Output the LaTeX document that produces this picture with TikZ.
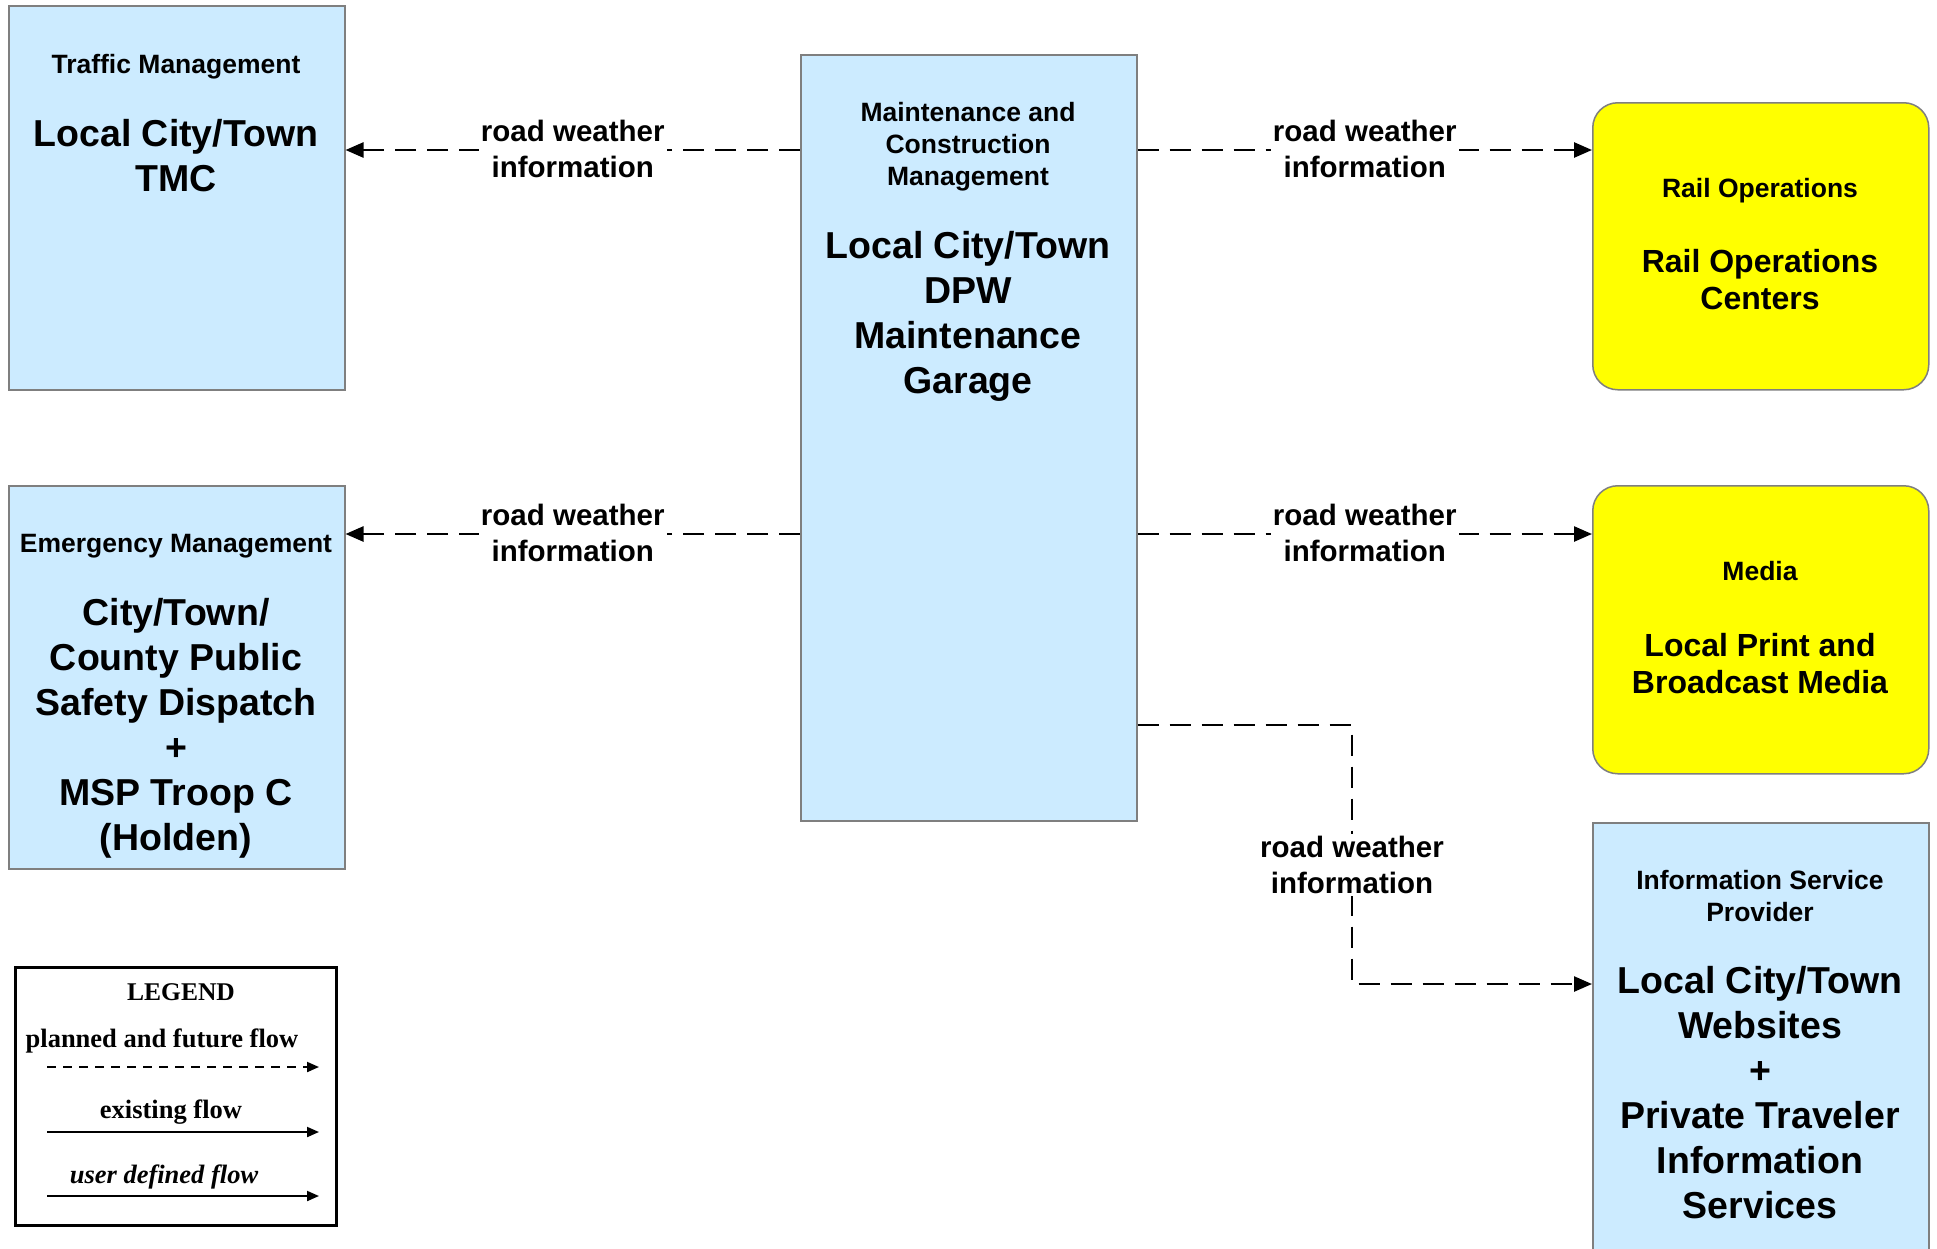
\documentclass[tikz,border=0pt]{standalone}
\usepackage{fontspec}
\setmainfont{Liberation Sans}
\newfontfamily\legendfont{Liberation Serif}
\usetikzlibrary{arrows.meta}
\definecolor{boxblue}{HTML}{CCEBFF}
\definecolor{boxyellow}{HTML}{FFFF00}
\definecolor{boxline}{HTML}{7F7F7F}
\begin{document}
\begin{tikzpicture}[x=1pt,y=-1pt,
  ent/.style={draw=boxline, line width=1.5pt, fill=boxblue, inner sep=0pt, anchor=north west},
  yent/.style={ent, fill=boxyellow, rounded corners=25pt},
  hdr/.style={inner sep=0pt, align=center, font=\fontsize{26.5}{32}\selectfont\bfseries},
  big/.style={inner sep=0pt, align=center, font=\fontsize{37.5}{45}\selectfont\bfseries},
  mid/.style={inner sep=0pt, align=center, font=\fontsize{32}{37}\selectfont\bfseries},
  lbl/.style={fill=white, inner sep=2pt, align=center, font=\fontsize{29.5}{36}\selectfont\bfseries},
  flow/.style={line width=2.5pt, dash pattern=on 21pt off 11pt, -{Triangle[length=18pt,width=15pt]}},
  legtxt/.style={inner sep=0pt, font=\fontsize{26.5}{30}\selectfont\legendfont\bfseries},
  legflow/.style={line width=2pt, -{Triangle[length=12pt,width=10pt]}}
]
\useasboundingbox (0,0) rectangle (1937,1248);
\fill[white] (0,0) rectangle (1937,1248);

% boxes
\node[ent, minimum width=336pt, minimum height=384pt] (tm) at (8,5) {};
\node[ent, minimum width=336pt, minimum height=383pt] (em) at (8,485) {};
\node[ent, minimum width=336pt, minimum height=766pt] (c) at (800,54) {};
\node[yent, minimum width=336pt, minimum height=287pt] (rail) at (1592,102) {};
\node[yent, minimum width=336pt, minimum height=288pt] (media) at (1592,485) {};
\node[ent, minimum width=336pt, minimum height=460pt] (isp) at (1592,822) {};

% texts
\node[hdr] (tmh) at (176,67) {Traffic Management};
\node[big] (tmb) at (176,155.5) {Local City/Town\\TMC};
\node[hdr] (emh) at (176,546.5) {Emergency Management};
\node[big] (emb) at (176,728) {City/Town/\\County Public\\Safety Dispatch\\+\\MSP Troop C\\(Holden)};
\node[hdr] (ch) at (968,147) {Maintenance and\\Construction\\Management};
\node[big] (cb) at (968,316.5) {Local City/Town\\DPW\\Maintenance\\Garage};
\node[hdr] (railh) at (1760,191) {Rail Operations};
\node[mid] (railb) at (1760,279.5) {Rail Operations\\Centers};
\node[hdr] (mediah) at (1760,571) {Media};
\node[mid] (mediab) at (1760,663.5) {Local Print and\\Broadcast Media};
\node[hdr] (isph) at (1760,896.5) {Information Service\\Provider};
\node[big] (ispb) at (1760,1093) {Local City/Town\\Websites\\+\\Private Traveler\\Information\\Services};

% flows
\draw[flow] (c.west |- 0,150) -- node[lbl, yshift=1pt] (l1) {road weather\\information} (tm.east |- 0,150);
\draw[flow] (c.west |- 0,534) -- node[lbl, yshift=1pt] (l2) {road weather\\information} (em.east |- 0,534);
\draw[flow] (c.east |- 0,150) -- node[lbl, yshift=1pt] (l3) {road weather\\information} (rail.west |- 0,150);
\draw[flow] (c.east |- 0,534) -- node[lbl, yshift=1pt] (l4) {road weather\\information} (media.west |- 0,534);
\coordinate (b1) at (1352,725);
\coordinate (b2) at (1352,984);
\draw[flow] (c.east |- b1) -- (b1) -- node[lbl, pos=0.54] (l5) {road weather\\information} (b2) -- (isp.west |- b2);

% legend
\node[draw, line width=2.5pt, minimum width=321pt, minimum height=258pt, anchor=north west, inner sep=0pt] (leg) at (14,966) {};
\node[legtxt, font=\fontsize{25.5}{30}\selectfont\legendfont\bfseries] (legt) at (181,992) {LEGEND};
\node[legtxt] (leg1) at (162,1041) {planned and future flow};
\coordinate (la1) at (47,1067);
\coordinate (lb1) at (319,1067);
\draw[legflow, dash pattern=on 9pt off 7pt] (la1) -- (lb1);
\node[legtxt] (leg2) at (171,1112) {existing flow};
\coordinate (la2) at (47,1132);
\coordinate (lb2) at (319,1132);
\draw[legflow] (la2) -- (lb2);
\node[legtxt, font=\fontsize{26.5}{30}\selectfont\legendfont\bfseries\itshape] (leg3) at (164,1177) {user defined flow};
\coordinate (la3) at (47,1196);
\coordinate (lb3) at (319,1196);
\draw[legflow] (la3) -- (lb3);
\end{tikzpicture}
\end{document}
